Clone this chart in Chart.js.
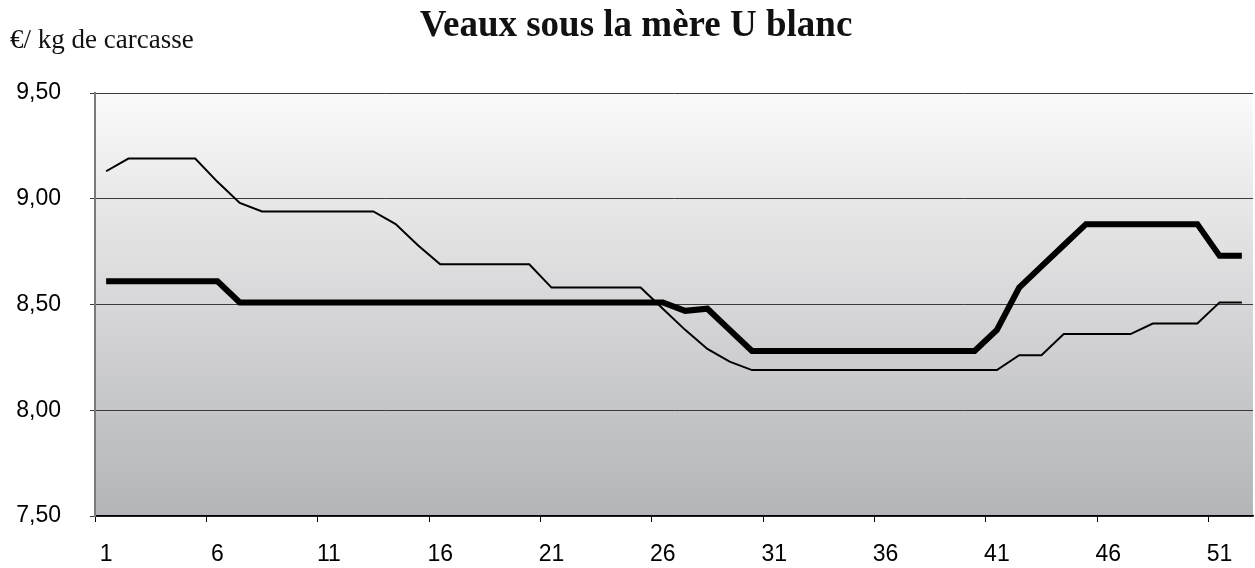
<!DOCTYPE html>
<html lang="fr">
<head>
<meta charset="utf-8">
<title>Veaux sous la mère U blanc</title>
<script src="https://cdn.jsdelivr.net/npm/chart.js@4.4.1/dist/chart.umd.min.js"></script>
<style>
    html, body { margin: 0; padding: 0; background: #ffffff; }
    canvas { display: block; }
</style>
</head>
<body>
<canvas id="graphVeaux" width="1255" height="568"></canvas>
<script>
// ==================== DONNÉES ====================

const titre = 'Veaux sous la mère U blanc';
const uniteY = '€/ kg de carcasse';

// semaines de l'année
const semaines = [
    '1', '2', '3', '4', '5', '6', '7', '8', '9', '10',
    '11', '12', '13', '14', '15', '16', '17', '18', '19', '20',
    '21', '22', '23', '24', '25', '26', '27', '28', '29', '30',
    '31', '32', '33', '34', '35', '36', '37', '38', '39', '40',
    '41', '42', '43', '44', '45', '46', '47', '48', '49', '50',
    '51', '52'
];

// trait épais
const coursAnnee = [
    8.61, 8.61, 8.61, 8.61, 8.61, 8.61, 8.51, 8.51, 8.51, 8.51,
    8.51, 8.51, 8.51, 8.51, 8.51, 8.51, 8.51, 8.51, 8.51, 8.51,
    8.51, 8.51, 8.51, 8.51, 8.51, 8.51, 8.47, 8.48, 8.38, 8.28,
    8.28, 8.28, 8.28, 8.28, 8.28, 8.28, 8.28, 8.28, 8.28, 8.28,
    8.38, 8.58, 8.68, 8.78, 8.88, 8.88, 8.88, 8.88, 8.88, 8.88,
    8.73, 8.73
];

// trait fin
const coursAnneePrec = [
    9.13, 9.19, 9.19, 9.19, 9.19, 9.08, 8.98, 8.94, 8.94, 8.94,
    8.94, 8.94, 8.94, 8.88, 8.78, 8.69, 8.69, 8.69, 8.69, 8.69,
    8.58, 8.58, 8.58, 8.58, 8.58, 8.48, 8.38, 8.29, 8.23, 8.19,
    8.19, 8.19, 8.19, 8.19, 8.19, 8.19, 8.19, 8.19, 8.19, 8.19,
    8.19, 8.26, 8.26, 8.36, 8.36, 8.36, 8.36, 8.41, 8.41, 8.41,
    8.51, 8.51
];

const graduationsY = [7.5, 8.0, 8.5, 9.0, 9.5];

// ==================== PLUGINS ====================

/**
 * Fond dégradé de la zone de tracé
 */
const fondDegrade = {
    id: 'fondDegrade',
    beforeDraw(chart) {
        const { ctx, chartArea: a } = chart;
        const grad = ctx.createLinearGradient(0, a.top, 0, a.bottom);
        grad.addColorStop(0, '#fafafa');
        grad.addColorStop(1, '#b3b4b7');
        ctx.save();
        ctx.fillStyle = grad;
        ctx.fillRect(a.left, a.top, a.right - a.left, a.bottom - a.top);
        ctx.restore();
    }
};

/**
 * Titre et unité
 */
const textes = {
    id: 'textes',
    afterDraw(chart) {
        const ctx = chart.ctx;
        ctx.save();
        ctx.fillStyle = '#111111';
        ctx.textBaseline = 'alphabetic';
        ctx.textAlign = 'center';
        ctx.font = 'bold 37px "Liberation Serif", "Times New Roman", serif';
        ctx.fillText(titre, 636, 36);
        ctx.textAlign = 'left';
        ctx.font = '27px "Liberation Serif", "Times New Roman", serif';
        ctx.fillText(uniteY, 10, 48);
        ctx.restore();
    }
};

// ==================== GRAPHIQUE ====================

const policeAxes = { family: '"Liberation Sans", Arial, sans-serif', size: 23 };

new Chart(document.getElementById('graphVeaux').getContext('2d'), {
    type: 'line',
    data: {
        labels: semaines,
        datasets: [
            {
                label: 'Année',
                data: coursAnnee,
                borderColor: '#000000',
                borderWidth: 6,
                pointRadius: 0,
                tension: 0,
                fill: false
            },
            {
                label: 'Année précédente',
                data: coursAnneePrec,
                borderColor: '#000000',
                borderWidth: 2,
                pointRadius: 0,
                tension: 0,
                fill: false
            }
        ]
    },
    options: {
        responsive: false,
        animation: false,
        devicePixelRatio: 1,
        layout: { padding: { top: 93, right: 2, bottom: 0, left: 0 } },
        plugins: {
            legend: { display: false },
            title: { display: false },
            tooltip: { enabled: false }
        },
        scales: {
            x: {
                offset: true,
                afterFit: (scale) => {
                    scale.height = 52;
                    // pas de marge latérale ajoutée par les étiquettes
                    scale.paddingLeft = 0;
                    scale.paddingRight = 0;
                },
                grid: {
                    offset: true,
                    drawOnChartArea: false,
                    tickLength: 6,
                    lineWidth: 1,
                    color: (c) => (c.index % 5 === 0 ? '#000000' : 'rgba(0,0,0,0)')
                },
                border: { color: '#000000', width: 1.5 },
                ticks: {
                    autoSkip: false,
                    maxRotation: 0,
                    padding: 19,
                    color: '#000000',
                    font: policeAxes,
                    callback: (v, i) => (i % 5 === 0 ? semaines[i] : '')
                }
            },
            y: {
                min: graduationsY[0],
                max: graduationsY[graduationsY.length - 1],
                afterFit: (scale) => { scale.width = 95; },
                afterBuildTicks: (scale) => { scale.ticks = graduationsY.map(v => ({ value: v })); },
                grid: {
                    color: '#3a3a3a',
                    lineWidth: 1,
                    tickLength: 5
                },
                border: { color: '#7a7a7a', width: 2 },
                ticks: {
                    padding: 29,
                    color: '#000000',
                    font: policeAxes,
                    callback: (v) => v.toFixed(2).replace('.', ',')
                }
            }
        }
    },
    plugins: [fondDegrade, textes]
});
</script>
</body>
</html>
